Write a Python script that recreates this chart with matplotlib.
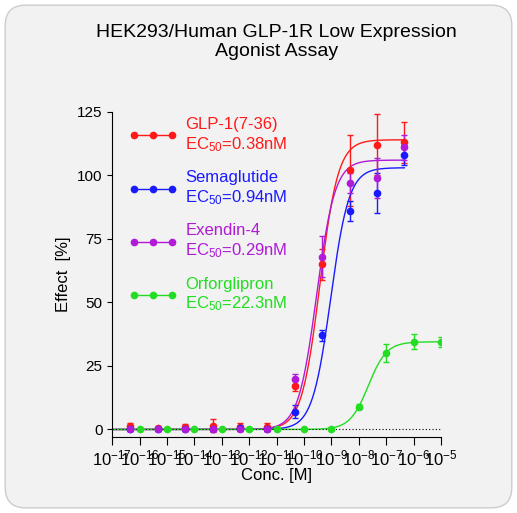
import numpy as np
import matplotlib.pyplot as plt
from matplotlib.patches import FancyBboxPatch

plt.rcParams['font.family'] = ['Liberation Sans', 'DejaVu Sans']
plt.rcParams['mathtext.fontset'] = 'custom'
plt.rcParams['mathtext.rm'] = 'Liberation Sans'
plt.rcParams['mathtext.it'] = 'Liberation Sans'

# concentrations (M)
conc_a = 10.0 ** (np.arange(-17, -6) + np.log10(4.6))
conc_b = 10.0 ** np.arange(-16, -4)

glp1 = [1.5, 0.5, 1, 1.5, 1, 1, 17, 65, 102, 112, 113]
glp1_err = [1, 0.5, 1, 2.5, 1.5, 1.5, 2, 6, 14, 12, 8]
sema = [0, 0, 0, 0, 0.5, 0, 7, 37, 86, 93, 108]
sema_err = [0.5, 0.5, 0.5, 0.5, 0.5, 0.5, 2.5, 2, 4, 8, 4]
exen = [0, 0, 0, 0, 0, 0, 20, 68, 97, 99, 111]
exen_err = [0.5, 0.5, 0.5, 0.5, 0.5, 0.5, 2, 8, 4, 8, 5]
orfo = [0, 0, 0, 0, 0, 0, 0, 0, 9, 30, 34.5, 34.5]
orfo_err = [0.3, 0.3, 0.3, 0.3, 0.3, 0.3, 0.3, 0.3, 1, 3.5, 3, 2]

names = ['GLP-1(7-36)', 'Semaglutide', 'Exendin-4', 'Orforglipron']
ec50 = [0.38e-9, 0.94e-9, 0.29e-9, 22.3e-9]
ec50_txt = ['0.38nM', '0.94nM', '0.29nM', '22.3nM']
tops = [114, 103, 106, 34.5]
hills = [1.3, 1.3, 1.3, 1.3]
colors = ['#ff1a1a', '#1a1aff', '#b01ad8', '#22dd22']

fig = plt.figure(figsize=(5.17, 5.13), dpi=100)
fig.patch.set_facecolor('white')
fig.patches.append(FancyBboxPatch((0.01, 0.01), 0.98, 0.98, boxstyle='round,pad=0,rounding_size=0.04',
                                  transform=fig.transFigure, facecolor='#f2f2f2', edgecolor='#cccccc',
                                  lw=1, zorder=-10))
ax = fig.add_axes([0.217, 0.148, 0.636, 0.634])
ax.set_facecolor('none')

series = [(conc_a, glp1, glp1_err), (conc_a, sema, sema_err), (conc_a, exen, exen_err), (conc_b, orfo, orfo_err)]
for i, (x, y, e) in enumerate(series):
    xx = np.logspace(-17, np.log10(x[-1]), 300)
    yy = tops[i] / (1 + (ec50[i] / xx) ** hills[i])
    ax.plot(xx, yy, color=colors[i], lw=1,
            label=names[i] + '\nEC$_{50}$=' + ec50_txt[i], marker='o', ms=4.5, markevery=[])
    ax.errorbar(x, y, yerr=e, fmt='o', color=colors[i], ms=4.5, capsize=2.5, elinewidth=1)

ax.plot([1e-17, 1e-5], [0, 0], ls=(0, (1, 2)), color='black', lw=0.8)

ax.set_xscale('log')
ax.set_xlim(1e-17, 1e-5)
ax.set_ylim(-3, 125)
ax.set_xticks(10.0 ** np.arange(-17, -4))
ax.set_xticklabels(['10$^{%d}$' % k for k in range(-17, -4)], fontsize=12)
ax.set_yticks([0, 25, 50, 75, 100, 125])
ax.tick_params(axis='y', labelsize=11)
ax.tick_params(axis='x', which='major', length=6, pad=2)
ax.tick_params(axis='x', which='minor', length=4)
ax.spines['top'].set_visible(False)
ax.spines['right'].set_visible(False)
ax.set_xlabel('Conc. [M]', fontsize=12, labelpad=0)
ax.set_ylabel('Effect  [%]', fontsize=12)
ax.set_title('HEK293/Human GLP-1R Low Expression\nAgonist Assay', fontsize=14, pad=40)

leg = ax.legend(loc='upper left', frameon=False, fontsize=12, labelcolor='linecolor', numpoints=1,
                handlelength=2.3, labelspacing=1.0, bbox_to_anchor=(0.02, 1.03))
for h in leg.legend_handles:
    h.set_markevery(None)

fig.savefig('out.png', dpi=100)
